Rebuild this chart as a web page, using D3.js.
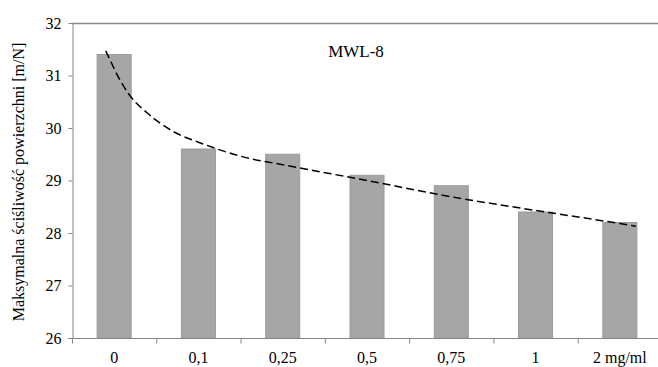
<!DOCTYPE html>
<html>
<head>
<meta charset="utf-8">
<title>MWL-8</title>
<script src="https://d3js.org/d3.v7.min.js"></script>
<style>
    body { margin: 0; background: #fff; }
</style>
</head>
<body>
<div id="chart"></div>
<script>
    // Dataset
    const categories = ['0', '0,1', '0,25', '0,5', '0,75', '1', '2 mg/ml'];
    const values = [31.4, 29.6, 29.5, 29.1, 28.9, 28.4, 28.2];
    const yTicks = [26, 27, 28, 29, 30, 31, 32];
    // dashed trend line: [category position, value]
    const trendPos = [-0.10, -0.05, 0.05, 0.19, 0.39, 0.74, 1.0, 1.53, 2.0, 3.0, 4.0, 5.0, 6.0, 6.19];
    const trendVal = [31.47, 31.30, 30.97, 30.61, 30.29, 29.90, 29.73, 29.45, 29.30, 29.00, 28.69, 28.43, 28.18, 28.13];

    const W = 658, H = 367;
    const plotL = 72, plotR = 662, plotT = 23, plotB = 338;
    const serif = "'Liberation Serif', 'Times New Roman', serif";

    const svg = d3.select("#chart").append("svg")
        .attr("width", W).attr("height", H)
        .style("font-family", serif);

    const x = d3.scaleBand().domain(categories).range([plotL, plotR]).padding(0);
    const y = d3.scaleLinear().domain([26, 32]).range([plotB, plotT]);
    // continuous position for the trend line (band centres at integer positions)
    const xPos = d3.scaleLinear().domain([0, 1])
        .range([plotL + x.bandwidth() / 2, plotL + x.bandwidth() * 1.5]);

    const barW = 34;
    svg.append("g").selectAll("rect")
        .data(values).enter().append("rect")
        .attr("x", (d, i) => x(categories[i]) + x.bandwidth() / 2 - barW / 2)
        .attr("y", d => y(d))
        .attr("width", barW)
        .attr("height", d => plotB - y(d))
        .attr("fill", "#a6a6a6")
        .attr("stroke", "#9a9a9a")
        .attr("stroke-width", 1);

    // top frame line
    svg.append("line")
        .attr("x1", plotL).attr("x2", W).attr("y1", plotT + 0.5).attr("y2", plotT + 0.5)
        .attr("stroke", "#868686").attr("stroke-width", 1.5);

    // y axis
    const yAxis = svg.append("g")
        .attr("transform", "translate(" + (plotL + 0.5) + ",0)")
        .call(d3.axisLeft(y).tickValues(yTicks).tickFormat(d3.format("d"))
            .tickSize(4).tickPadding(7).tickSizeOuter(0));
    yAxis.attr("font-family", null).attr("font-size", null);
    yAxis.selectAll("path, line").attr("stroke", "#868686");
    yAxis.selectAll("text").attr("fill", "#000")
        .style("font-size", "16px").style("font-family", serif);

    // x axis
    const xAxis = svg.append("g")
        .attr("transform", "translate(0," + (plotB + 0.5) + ")");
    xAxis.append("line")
        .attr("x1", plotL - 4).attr("x2", W).attr("stroke", "#868686");
    xAxis.selectAll(".tk").data(categories).enter().append("line")
        .attr("x1", d => x(d) + 0.5).attr("x2", d => x(d) + 0.5)
        .attr("y1", 0).attr("y2", 5).attr("stroke", "#868686");
    xAxis.selectAll(".lbl").data(categories).enter().append("text")
        .attr("x", d => x(d) + x.bandwidth() / 2)
        .attr("y", 24)
        .attr("text-anchor", "middle")
        .style("font-size", "16px").style("font-family", serif)
        .text(d => d);

    // trend line
    const line = d3.line()
        .x((d, i) => xPos(trendPos[i]))
        .y(d => y(d))
        .curve(d3.curveMonotoneX);
    svg.append("path")
        .attr("d", line(trendVal))
        .attr("fill", "none")
        .attr("stroke", "#000")
        .attr("stroke-width", 1.5)
        .attr("stroke-dasharray", "8,4");

    // chart label
    svg.append("text")
        .attr("x", 356).attr("y", 57)
        .attr("text-anchor", "middle")
        .style("font-size", "17px").style("font-family", serif)
        .text("MWL-8");

    // y title
    svg.append("text")
        .attr("transform", "translate(24,182) rotate(-90)")
        .attr("text-anchor", "middle")
        .style("font-size", "16px").style("font-family", serif)
        .text("Maksymalna ściśliwość powierzchni [m/N]");
</script>
</body>
</html>
